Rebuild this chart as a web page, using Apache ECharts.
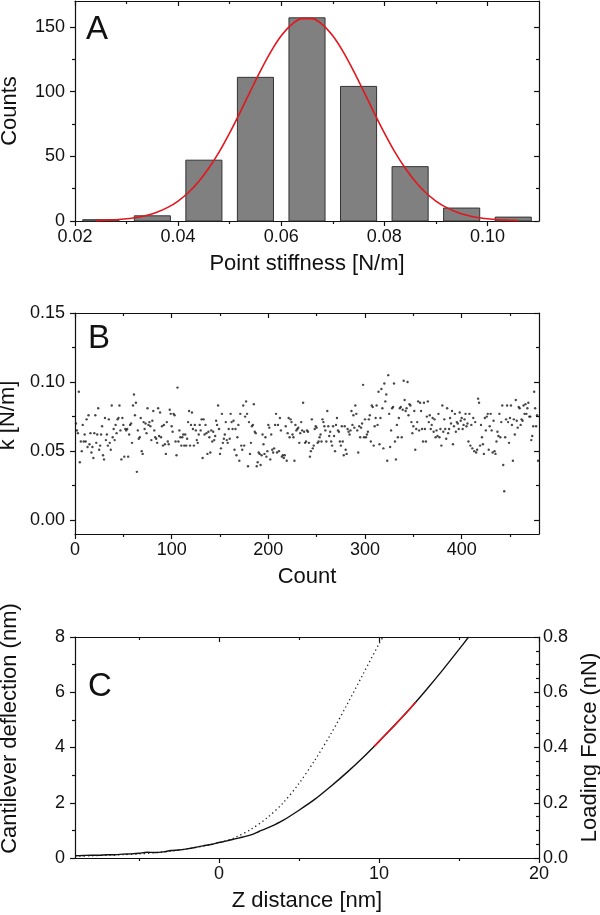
<!DOCTYPE html>
<html>
<head>
<meta charset="utf-8">
<title>Point stiffness</title>
<script src="https://cdn.jsdelivr.net/npm/echarts@6/dist/echarts.min.js"></script>
<style>
  html, body { margin: 0; padding: 0; background: #fff; }
  #chart { width: 600px; height: 915px; }
</style>
</head>
<body>
<div id="chart"></div>
<script>
// ---- panel A: histogram + gaussian fit ----
const binCenters = [0.025, 0.035, 0.045, 0.055, 0.065, 0.075, 0.085, 0.095, 0.105];
const binCounts = [1, 4, 47, 111, 157, 104, 42, 10, 3];
const fitX = [0.024, 0.026, 0.028, 0.030, 0.032, 0.034, 0.036, 0.038, 0.040, 0.042, 0.044,
  0.046, 0.048, 0.050, 0.052, 0.054, 0.056, 0.058, 0.060, 0.062, 0.064, 0.066, 0.068,
  0.070, 0.072, 0.074, 0.076, 0.078, 0.080, 0.082, 0.084, 0.086, 0.088, 0.090, 0.092,
  0.094, 0.096, 0.098, 0.100, 0.102, 0.104, 0.106];
const fitY = [0.3, 0.6, 1.0, 1.7, 2.7, 4.4, 6.9, 10.5, 15.4, 22.0, 30.5,
  41.1, 53.6, 68.1, 83.8, 100.2, 116.2, 130.9, 143.1, 151.8, 156.4, 156.4, 151.8,
  143.1, 130.9, 116.2, 100.2, 83.8, 68.1, 53.6, 41.1, 30.5, 22.0, 15.4, 10.5,
  6.9, 4.4, 2.7, 1.7, 1.0, 0.6, 0.3];

// ---- panel B: k per count ----
const kValues = [
  0.070,0.065,0.063,0.093,0.042,0.057,0.050,0.069,0.057,0.062,
  0.057,0.073,0.053,0.076,0.055,0.063,0.049,0.053,0.045,0.063,
  0.076,0.056,0.062,0.081,0.051,0.054,0.062,0.068,0.047,0.044,
  0.074,0.058,0.062,0.054,0.073,0.056,0.051,0.083,0.060,0.066,
  0.058,0.069,0.063,0.073,0.074,0.083,0.065,0.044,0.074,0.069,
  0.046,0.066,0.065,0.066,0.046,0.062,0.069,0.070,0.056,0.083,
  0.091,0.076,0.085,0.035,0.065,0.059,0.060,0.074,0.050,0.048,
  0.071,0.066,0.070,0.063,0.081,0.069,0.071,0.068,0.058,0.072,
  0.079,0.065,0.060,0.059,0.056,0.081,0.061,0.078,0.060,0.068,
  0.054,0.069,0.055,0.048,0.071,0.057,0.055,0.080,0.077,0.068,
  0.064,0.077,0.076,0.057,0.047,0.096,0.057,0.065,0.060,0.054,
  0.060,0.062,0.054,0.062,0.054,0.059,0.071,0.079,0.054,0.069,
  0.078,0.066,0.054,0.069,0.065,0.058,0.056,0.062,0.069,
  0.065,0.073,0.045,0.073,0.062,0.069,0.063,0.048,
  0.064,0.060,0.049,0.065,0.057,0.064,0.058,0.061,0.072,
  0.069,0.083,0.066,0.048,0.052,0.077,0.056,0.059,0.062,
  0.071,0.058,0.056,0.066,0.059,0.077,0.071,0.066,0.072,
  0.051,0.066,0.047,0.060,0.069,0.043,0.077,0.054,
  0.051,0.083,0.054,0.075,0.086,0.077,0.039,0.071,
  0.048,0.056,0.068,0.069,0.084,0.064,0.063,0.039,0.042,
  0.049,0.048,0.040,0.047,0.062,0.055,0.048,0.060,
  0.046,0.050,0.069,0.067,0.044,0.062,0.051,0.049,
  0.052,0.069,0.077,0.049,0.069,0.050,0.074,0.065,0.046,
  0.047,0.045,0.047,0.068,0.043,0.063,0.074,0.060,
  0.073,0.071,0.062,0.060,0.043,0.069,0.065,0.066,0.067,
  0.056,0.063,0.071,0.065,0.085,0.064,0.056,0.057,0.065,
  0.064,0.056,0.046,0.050,0.073,0.052,0.054,0.066,0.068,
  0.067,0.056,0.057,0.060,0.062,0.057,0.073,0.071,
  0.068,0.065,0.057,0.079,0.068,0.061,0.064,0.057,0.054,
  0.068,0.061,0.050,0.069,0.074,0.065,0.064,0.057,0.054,
  0.068,0.057,0.047,0.068,0.051,0.048,0.066,0.064,
  0.062,0.065,0.079,0.069,0.076,0.067,0.083,0.077,0.065,
  0.049,0.068,0.060,0.067,0.070,0.098,0.060,0.073,
  0.060,0.062,0.064,0.073,0.076,0.057,0.083,0.082,
  0.054,0.068,0.074,0.083,0.069,0.093,0.055,0.074,
  0.095,0.081,0.052,0.099,0.086,0.091,0.043,0.105,0.077,
  0.053,0.065,0.081,0.082,0.099,0.057,0.044,0.069,
  0.060,0.074,0.081,0.082,0.060,0.080,0.101,0.087,0.079,
  0.081,0.100,0.076,0.084,0.083,0.071,0.063,0.068,0.079,
  0.051,0.066,0.071,0.086,0.065,0.085,0.079,0.066,
  0.057,
  0.085,0.066,0.057,0.075,0.086,0.071,0.076,0.066,0.069,
  0.074,0.064,0.073,0.060,0.065,0.061,0.077,0.060,
  0.066,0.054,0.083,0.064,0.073,0.066,0.059,0.081,
  0.063,0.066,0.074,0.070,0.079,0.055,0.068,0.077,
  0.064,0.071,0.070,0.066,0.078,0.072,0.074,0.066,
  0.069,0.073,0.077,0.068,0.070,0.057,0.077,0.054,
  0.069,0.052,0.074,0.050,0.071,0.049,0.051,0.088,
  0.085,0.054,0.069,0.060,0.055,0.048,0.074,0.065,0.075,
  0.077,0.051,0.068,0.077,0.065,0.049,0.072,0.050,
  0.048,0.057,0.064,0.061,0.077,0.060,0.071,0.083,0.040,
  0.021,0.060,0.073,0.083,0.071,0.056,0.074,0.083,0.069,
  0.043,0.073,0.062,0.087,0.072,0.067,0.082,0.081,0.069,
  0.073,0.072,0.083,0.077,0.084,0.077,0.081,0.085,
  0.075,0.075,0.058,0.061,0.068,0.093,0.081,0.068,0.076,
  0.043
];

// ---- panel C: deflection curves ----
const zSolid = [-9.0, -8.5, -8.0, -7.5, -7.0, -6.5, -6.0, -5.5, -5.0, -4.5, -4.0, -3.5, -3.0,
  -2.5, -2.0, -1.5, -1.0, -0.5, 0.0, 0.5, 1.0, 1.5, 2.0, 2.5, 3.0, 3.5, 4.0, 5.0, 6.0, 7.0,
  8.0, 9.0, 10.0, 11.0, 12.0, 13.0, 14.0, 15.0, 15.6];
const dSolid = [0.08, 0.09, 0.10, 0.10, 0.12, 0.12, 0.14, 0.15, 0.17, 0.21, 0.20, 0.22, 0.27,
  0.29, 0.33, 0.38, 0.44, 0.49, 0.56, 0.62, 0.69, 0.76, 0.84, 0.96, 1.08, 1.21, 1.36, 1.73,
  2.13, 2.60, 3.10, 3.64, 4.22, 4.82, 5.45, 6.12, 6.82, 7.55, 8.0];
const zFit = [9.7, 10.0, 10.5, 11.0, 11.5, 12.0, 12.3];
const dFit = [4.04, 4.22, 4.52, 4.82, 5.13, 5.45, 5.65];
const zDotted = [-9, -8, -7, -6, -5, -4, -3, -2, -1, 0, 1, 2, 3, 4, 5, 6, 7, 8, 9, 10, 10.25];
const dDotted = [0.06, 0.08, 0.10, 0.12, 0.15, 0.19, 0.25, 0.33, 0.43, 0.55, 0.74, 1.04, 1.45,
  1.99, 2.70, 3.55, 4.50, 5.55, 6.65, 7.75, 8.0];

// ---- tick positions ----
const aXMajor = [0.02, 0.04, 0.06, 0.08, 0.10], aXMinor = [0.03, 0.05, 0.07, 0.09];
const aYMajor = [0, 50, 100, 150], aYMinor = [25, 75, 125];
const bXMajor = [0, 100, 200, 300, 400], bXMinor = [50, 150, 250, 350, 450];
const bYMajor = [0, 0.05, 0.10, 0.15], bYMinor = [0.025, 0.075, 0.125];
const cXMajor = [0, 10, 20], cXMinor = [-5, 5, 15];
const cYMajor = [0, 2, 4, 6, 8], cYMinor = [1, 3, 5, 7];
const cRMajor = [0, 0.2, 0.4, 0.6, 0.8];
const cRMinor = [0.05, 0.10, 0.15, 0.25, 0.30, 0.35, 0.45, 0.50, 0.55, 0.65, 0.70, 0.75];

const font = "'Liberation Sans', Arial, sans-serif";
const ink = '#111';
const frameLine = { color: ink, width: 1.2 };

const xAxes = [], yAxes = [];

// one side of a plot frame: a major axis (line, ticks, labels) + a minor one (short ticks only)
function side(list, grid, pos, min, max, major, minor, inside, label, extra) {
  const idx = list.length;
  const common = { type: 'value', gridIndex: grid, position: pos, min: min, max: max, splitLine: { show: false } };
  list.push(Object.assign({}, common, {
    axisLine: { show: true, onZero: false, lineStyle: frameLine },
    axisTick: { show: true, inside: inside, length: 5, customValues: major, lineStyle: frameLine },
    axisLabel: label
      ? Object.assign({ customValues: major, fontSize: 18, color: ink, fontFamily: font }, label)
      : { show: false }
  }, extra || {}));
  list.push(Object.assign({}, common, {
    axisLine: { show: false, onZero: false },
    axisTick: { show: true, inside: inside, length: 3, customValues: minor, lineStyle: frameLine },
    axisLabel: { show: false }
  }));
  return idx;
}

function axisName(text, gap, rotate, pad) {
  return {
    name: text, nameLocation: 'middle', nameGap: gap, nameRotate: rotate,
    nameTextStyle: { fontSize: 22, color: ink, fontFamily: font, padding: pad || 0 }
  };
}

// panel A
const axA = side(xAxes, 0, 'bottom', 0.02, 0.11, aXMajor, aXMinor, false,
  { margin: 7, formatter: v => v.toFixed(2) }, axisName('Point stiffness [N/m]', 32, 0));
side(xAxes, 0, 'top', 0.02, 0.11, aXMajor, aXMinor, true);
const ayA = side(yAxes, 0, 'left', 0, 170, aYMajor, aYMinor, false,
  { margin: 10 }, axisName('Counts', 54, 90));
side(yAxes, 0, 'right', 0, 170, aYMajor, aYMinor, true);

// panel B
const axB = side(xAxes, 1, 'bottom', 0, 480, bXMajor, bXMinor, false,
  { margin: 7 }, axisName('Count', 32, 0));
side(xAxes, 1, 'top', 0, 480, bXMajor, bXMinor, true);
const ayB = side(yAxes, 1, 'left', -0.01, 0.15, bYMajor, bYMinor, false,
  { margin: 10, formatter: v => v.toFixed(2) }, axisName('k [N/m]', 53, 90, [0, 0, 0, 16]));
side(yAxes, 1, 'right', -0.01, 0.15, bYMajor, bYMinor, true);

// panel C
const axC = side(xAxes, 2, 'bottom', -9, 20, cXMajor, cXMinor, false,
  { margin: 7 }, axisName('Z distance [nm]', 32, 0));
side(xAxes, 2, 'top', -9, 20, cXMajor, cXMinor, true);
const ayC = side(yAxes, 2, 'left', 0, 8, cYMajor, cYMinor, false,
  { margin: 10 }, axisName('Cantilever deflection (nm)', 54, 90, [0, 0, 0, 38]));
side(yAxes, 2, 'right', 0, 0.8, cRMajor, cRMinor, true,
  { margin: 4, formatter: v => v.toFixed(1) }, axisName('Loading Force (nN)', 38, 90));

const binWidth = 0.007;

const option = {
  animation: false,
  backgroundColor: '#fff',
  textStyle: { fontFamily: font },
  grid: [
    { left: 75, top: 1, width: 464, height: 220, outerBoundsMode: 'none' },
    { left: 75, top: 313, width: 464, height: 221, outerBoundsMode: 'none' },
    { left: 75, top: 637, width: 464, height: 221, outerBoundsMode: 'none' }
  ],
  xAxis: xAxes,
  yAxis: yAxes,
  graphic: [
    { type: 'text', x: 86, y: 30, style: { text: 'A', fontSize: 33, fontFamily: font, fill: ink, verticalAlign: 'middle' } },
    { type: 'text', x: 88, y: 339, style: { text: 'B', fontSize: 33, fontFamily: font, fill: ink, verticalAlign: 'middle' } },
    { type: 'text', x: 88, y: 687, style: { text: 'C', fontSize: 33, fontFamily: font, fill: ink, verticalAlign: 'middle' } }
  ],
  series: [
    {
      type: 'custom',
      xAxisIndex: axA, yAxisIndex: ayA,
      data: binCenters.map((c, i) => [c, binCounts[i]]),
      encode: { x: 0, y: 1 },
      renderItem: function (params, api) {
        const c = api.value(0), h = api.value(1);
        const p0 = api.coord([c - binWidth / 2, h]);
        const p1 = api.coord([c + binWidth / 2, 0]);
        return {
          type: 'rect',
          shape: { x: p0[0], y: p0[1], width: p1[0] - p0[0], height: p1[1] - p0[1] },
          style: { fill: '#808080', stroke: '#333', lineWidth: 1 }
        };
      }
    },
    {
      type: 'line',
      xAxisIndex: axA, yAxisIndex: ayA,
      data: fitX.map((x, i) => [x, fitY[i]]),
      smooth: 0.3, showSymbol: false,
      lineStyle: { color: '#e3161d', width: 1.6 }
    },
    {
      type: 'scatter',
      xAxisIndex: axB, yAxisIndex: ayB,
      data: kValues.map((v, i) => [i + 1, v]),
      symbolSize: 2.4,
      itemStyle: { color: '#1a1a1a' }
    },
    {
      type: 'line',
      xAxisIndex: axC, yAxisIndex: ayC,
      data: zDotted.map((z, i) => [z, dDotted[i]]),
      smooth: 0.3, showSymbol: false,
      lineStyle: { color: '#222', width: 1.3, type: [1.3, 3] }
    },
    {
      type: 'line',
      xAxisIndex: axC, yAxisIndex: ayC,
      data: zSolid.map((z, i) => [z, dSolid[i]]),
      smooth: 0.3, showSymbol: false,
      lineStyle: { color: '#111', width: 1.4 }
    },
    {
      type: 'line',
      xAxisIndex: axC, yAxisIndex: ayC,
      data: zFit.map((z, i) => [z, dFit[i]]),
      smooth: 0.3, showSymbol: false,
      lineStyle: { color: '#e3161d', width: 1.6 }
    }
  ]
};

const chart = echarts.init(document.getElementById('chart'), null, { renderer: 'canvas' });
chart.setOption(option);
</script>
</body>
</html>
